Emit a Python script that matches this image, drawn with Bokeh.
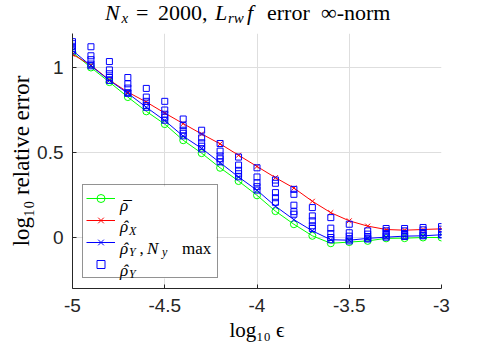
from bokeh.plotting import figure
from bokeh.layouts import column
from bokeh.models import Range1d, FixedTicker, Label, Legend, LegendItem, Div, BoxAnnotation
from bokeh.core.properties import value
from bokeh.embed import file_html
from bokeh.resources import INLINE

# ---------------- data ----------------
log_eps = [-5.0, -4.9, -4.8, -4.7, -4.6, -4.5, -4.4, -4.3, -4.2, -4.1, -4.0,
           -3.9, -3.8, -3.7, -3.6, -3.5, -3.4, -3.3, -3.2, -3.1, -3.0]

rho_bar = [1.088, 1.000, 0.914, 0.826, 0.742, 0.667, 0.572, 0.496, 0.410, 0.332, 0.248,
           0.155, 0.078, 0.010, -0.034, -0.027, -0.020, -0.005, -0.004, 0.000, 0.000]

rho_hat_x = [1.078, 1.013, 0.926, 0.855, 0.797, 0.732, 0.670, 0.609, 0.551, 0.484, 0.418,
             0.352, 0.291, 0.213, 0.146, 0.098, 0.067, 0.047, 0.043, 0.047, 0.051]

rho_hat_y_max = [1.100, 1.010, 0.924, 0.848, 0.766, 0.688, 0.596, 0.524, 0.440, 0.356, 0.278,
                 0.184, 0.105, 0.039, -0.013, -0.016, -0.005, 0.002, 0.008, 0.010, 0.016]

rho_hat_y_ny1 = [1.152, 1.122, 1.035, 0.941, 0.877, 0.801, 0.697, 0.631, 0.553, 0.473, 0.410,
                 0.338, 0.283, 0.176, 0.117, 0.078, 0.039, 0.053, 0.053, 0.059, 0.064]
rho_hat_y_ny2 = [1.140, 1.069, 0.986, 0.904, 0.826, 0.750, 0.658, 0.586, 0.508, 0.426, 0.356,
                 0.319, 0.254, 0.127, 0.055, 0.028, 0.020, 0.039, 0.039, 0.045, 0.049]
rho_hat_y_ny3 = [1.125, 1.046, 0.963, 0.879, 0.801, 0.725, 0.631, 0.557, 0.480, 0.395, 0.322,
                 0.264, 0.190, 0.098, 0.023, 0.008, 0.006, 0.023, 0.023, 0.029, 0.033]
rho_hat_y_ny4 = [1.113, 1.020, 0.941, 0.852, 0.777, 0.707, 0.613, 0.537, 0.463, 0.375, 0.299,
                 0.234, 0.152, 0.069, 0.000, -0.009, -0.004, 0.010, 0.010, 0.014, 0.016]
rho_hat_y_ny5 = [1.098, 1.010, 0.924, 0.848, 0.766, 0.690, 0.598, 0.521, 0.445, 0.357, 0.279,
                 0.207, 0.137, 0.053, -0.013, -0.020, -0.009, 0.002, 0.006, 0.010, 0.016]

x_ticks = [-5, -4.5, -4, -3.5, -3]
x_tick_labels = ["-5", "-4.5", "-4", "-3.5", "-3"]
y_ticks = [0, 0.5, 1]
y_tick_labels = ["0", "0.5", "1"]

GREEN, RED, BLUE = "#00ff00", "#ff0000", "#0000ff"
AX = "#262626"
SERIF = "Liberation Serif"


# ---------------- title (HTML text, pieces placed like the LaTeX title) ----------------
def piece(left, baseline, s, size, italic=False):
    top = baseline - 0.838 * size
    st = "italic" if italic else "normal"
    return (f'<span style="position:absolute; left:{left}px; top:{top:.1f}px; '
            f'font-size:{size}px; line-height:{size}px; font-style:{st}; '
            f'white-space:nowrap;">{s}</span>')


title_html = ('<div style="position:relative; width:487px; height:33px; '
              'font-family:\'Liberation Serif\'; color:#000;">'
              + piece(105, 20.5, "N", 22, True)
              + piece(121.5, 24, "x", 15, True)
              + piece(136, 20.5, "=", 22)
              + piece(158, 20.5, "2000,", 22)
              + piece(215, 20.5, "L", 22, True)
              + piece(228, 24, "rw", 15, True)
              + piece(247, 20.5, "f", 22, True)
              + piece(267, 20.5, "error", 22)
              + piece(321, 20.5, "&infin;-norm", 22)
              + '</div>')
title = Div(text=title_html, width=487, height=33, margin=0)

# ---------------- figure ----------------
p = figure(width=487, height=313, output_backend="svg", toolbar_location=None,
           x_range=Range1d(-5, -3), y_range=Range1d(-0.3, 1.2),
           min_border_left=72, min_border_right=46, min_border_top=0, min_border_bottom=58,
           margin=0)
p.outline_line_color = None
p.background_fill_color = "white"

p.xaxis.ticker = FixedTicker(ticks=x_ticks)
p.yaxis.ticker = FixedTicker(ticks=y_ticks)
p.xaxis.major_label_overrides = {float(t): s for t, s in zip(x_ticks, x_tick_labels)}
p.yaxis.major_label_overrides = {float(t): s for t, s in zip(y_ticks, y_tick_labels)}
for ax in (p.xaxis, p.yaxis):
    ax.axis_line_color = AX
    ax.major_tick_line_color = AX
    ax.major_tick_in = 4
    ax.major_tick_out = 0
    ax.minor_tick_line_color = None
    ax.major_label_text_font = "Liberation Sans"
    ax.major_label_text_font_size = "19px"
    ax.major_label_text_color = AX
    ax.axis_label_text_font = SERIF
    ax.axis_label_text_font_style = "normal"
    ax.axis_label_text_color = "#000000"
p.xaxis.major_label_standoff = 10
p.yaxis.major_label_standoff = 9
p.xaxis.axis_label = "log₁₀ ϵ"
p.xaxis.axis_label_text_font_size = "21px"
p.xaxis.axis_label_standoff = 3
p.yaxis.axis_label = "log₁₀ relative error"
p.yaxis.axis_label_text_font_size = "23px"
p.yaxis.axis_label_standoff = 0

p.grid.grid_line_color = "#dedede"
p.grid.grid_line_width = 1

# ---------------- glyphs ----------------
g_line = p.line(log_eps, rho_bar, line_color=GREEN, line_width=1)
g_pts = p.scatter(log_eps, rho_bar, marker="circle", size=7, line_color=GREEN,
                  fill_color=None, line_width=1)
r_line = p.line(log_eps, rho_hat_x, line_color=RED, line_width=1)
r_pts = p.scatter(log_eps, rho_hat_x, marker="x", size=7, line_color=RED, line_width=1)
b_line = p.line(log_eps, rho_hat_y_max, line_color=BLUE, line_width=1)
b_pts = p.scatter(log_eps, rho_hat_y_max, marker="x", size=7, line_color=BLUE, line_width=1)
sq_renderers = []
for ser in (rho_hat_y_ny1, rho_hat_y_ny2, rho_hat_y_ny3, rho_hat_y_ny4, rho_hat_y_ny5):
    sq_renderers.append(p.scatter(log_eps, ser, marker="square", size=6, line_color=BLUE,
                                  fill_color=None, line_width=1))

# white panel behind the (transparent) legend, covering the grid lines
p.add_layout(BoxAnnotation(left=10, right=144, bottom=10, top=102,
                           left_units="screen", right_units="screen",
                           bottom_units="screen", top_units="screen",
                           fill_color="white", fill_alpha=1.0, line_color=None,
                           level="underlay"))

legend = Legend(items=[
    LegendItem(label=value(" "), renderers=[g_line, g_pts]),
    LegendItem(label=value(" "), renderers=[r_line, r_pts]),
    LegendItem(label=value(" "), renderers=[b_line, b_pts]),
    LegendItem(label=value(" "), renderers=[sq_renderers[0]]),
], location=(10, 10), padding=3, spacing=2, label_height=20, glyph_height=20,
   glyph_width=29, label_standoff=6, label_width=93, margin=0,
   border_line_color=AX, border_line_width=1, background_fill_alpha=0.0)
p.add_layout(legend)

# ---------------- legend texts (page px -> frame-relative screen units) ----------------
FL, FB = 72, 288


def txt(px, py, s, size, style="normal"):
    p.add_layout(Label(x=px - FL, y=FB - py, x_units="screen", y_units="screen", text=s,
                       text_font=SERIF, text_font_size=f"{size}px", text_font_style=style,
                       text_color="#000000", text_align="left", text_baseline="alphabetic",
                       level="overlay"))


# row 1: rho-bar
txt(119.5, 204.5, "ρ", 17, "italic")
txt(121.5, 206.5, "¯", 17, "italic")
# row 2: rho-hat_X
txt(119.5, 226, "ρ", 17, "italic")
txt(122, 226, "ˆ", 17, "italic")
txt(128.5, 230, "X", 12, "italic")
# row 3: rho-hat_Y, N_y max
txt(119.5, 247.5, "ρ", 17, "italic")
txt(122, 247.5, "ˆ", 17, "italic")
txt(128.5, 251.5, "Y", 12, "italic")
txt(139, 247.5, ",", 17)
txt(146.5, 247.5, "N", 17, "italic")
txt(161.5, 251.5, "y", 12, "italic")
txt(181.5, 247.5, "max", 17)
# row 4: rho-hat_Y
txt(119.5, 269.5, "ρ", 17, "italic")
txt(122, 269.5, "ˆ", 17, "italic")
txt(128.5, 273.5, "Y", 12, "italic")

layout = column(title, p, spacing=0, margin=0)
open("out.html", "w").write(file_html(layout, INLINE))
